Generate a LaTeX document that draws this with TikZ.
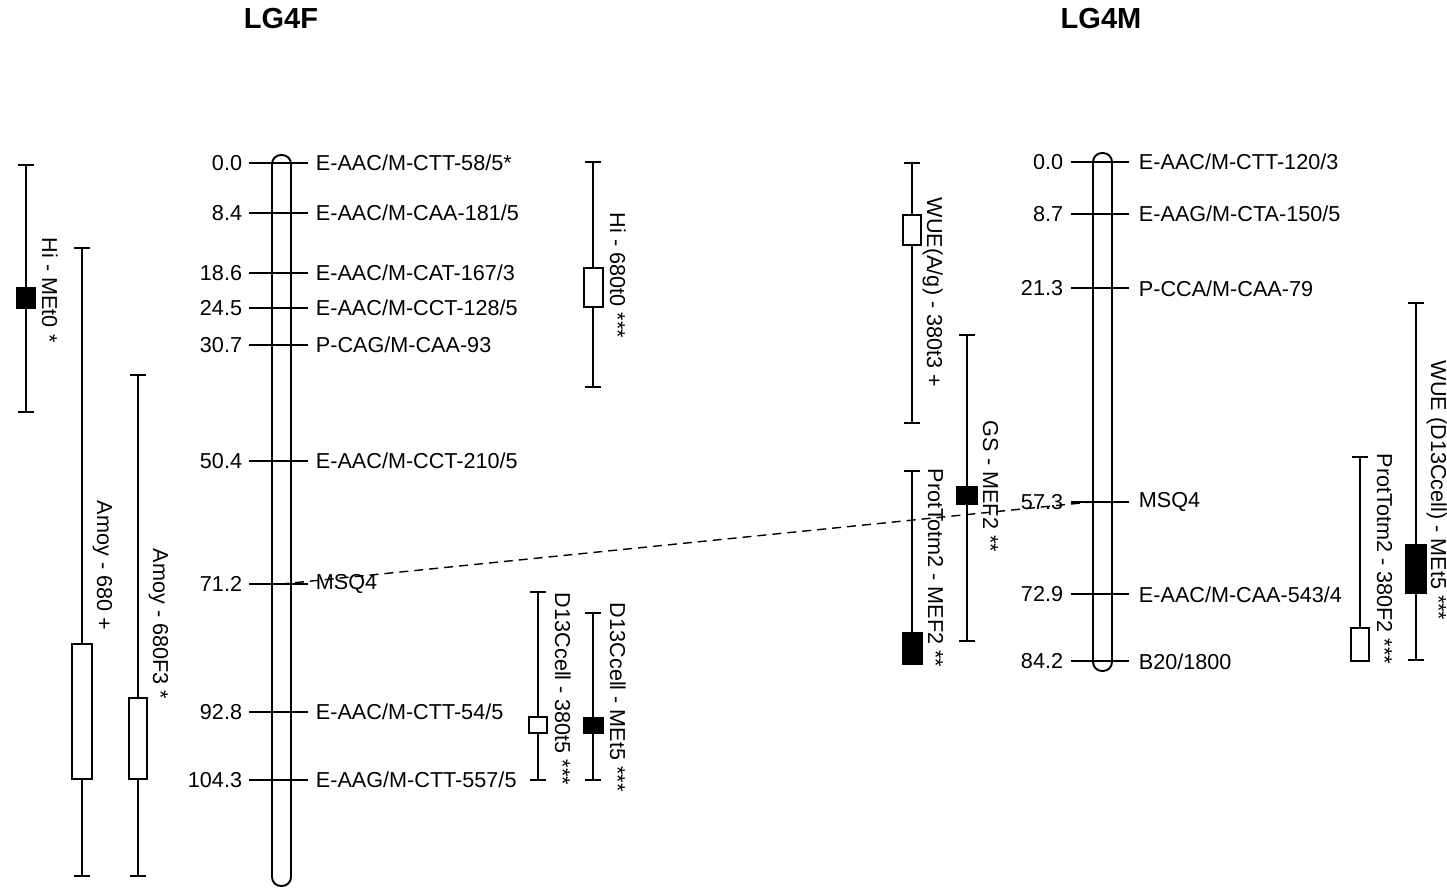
\documentclass[tikz,border=0pt]{standalone}
\usepackage{fontspec}
\setmainfont{Liberation Sans}
\usetikzlibrary{calc}

\begin{document}
\begin{tikzpicture}[x=0.02cm,y=-0.02cm,line width=1.1pt,
    every node/.style={font=\fontsize{12.3}{14}\selectfont},
    cpos/.style={anchor=east,inner sep=0pt},
    cmark/.style={anchor=west,inner sep=0pt},
    qlabel/.style={rotate=-90,anchor=base west,inner sep=0pt},
    lgtitle/.style={font=\fontsize{16.5}{18}\selectfont\bfseries},
    chrom/.style={rounded corners=0.18cm},
    openbox/.style={fill=white},
    fullbox/.style={fill=black},
    link/.style={line width=0.8pt,dash pattern=on 0.18cm off 0.12cm}]
        \useasboundingbox (0,0) rectangle (1447,888);

        \node[lgtitle] (tF) at (281,19) {LG4F};
        \node[lgtitle] (tM) at (1101,19) {LG4M};

        % LG4F
        \draw[chrom] (272,155) rectangle (291,886);
        \draw (249,163) -- (308,163);
        \draw (249,212.7) -- (308,212.7);
        \draw (249,273) -- (308,273);
        \draw (249,307.9) -- (308,307.9);
        \draw (249,344.6) -- (308,344.6);
        \draw (249,461.2) -- (308,461.2);
        \draw (249,584.2) -- (308,584.2);
        \draw (249,712) -- (308,712);
        \draw (249,780) -- (308,780);
        \node[cpos] (f1) at (243,163) {0.0};
        \node[cpos] (f2) at (243,212.7) {8.4};
        \node[cpos] (f3) at (243,273) {18.6};
        \node[cpos] (f4) at (243,307.9) {24.5};
        \node[cpos] (f5) at (243,344.6) {30.7};
        \node[cpos] (f6) at (243,461.2) {50.4};
        \node[cpos] (f7) at (243,584.2) {71.2};
        \node[cpos] (f8) at (243,712) {92.8};
        \node[cpos] (f9) at (243,780) {104.3};
        \node[cmark] (fm1) at (315,163) {E-AAC/M-CTT-58/5*};
        \node[cmark] (fm2) at (315,212.7) {E-AAC/M-CAA-181/5};
        \node[cmark] (fm3) at (315,273) {E-AAC/M-CAT-167/3};
        \node[cmark] (fm4) at (315,307.9) {E-AAC/M-CCT-128/5};
        \node[cmark] (fm5) at (315,344.6) {P-CAG/M-CAA-93};
        \node[cmark] (fm6) at (315,461.2) {E-AAC/M-CCT-210/5};
        \node[cmark] (fm7) at (315,584.2) {MSQ4};
        \node[cmark] (fm8) at (315,712) {E-AAC/M-CTT-54/5};
        \node[cmark] (fm9) at (315,780) {E-AAG/M-CTT-557/5};

        % LG4M
        \draw[chrom] (1093,153) rectangle (1112,671);
        \draw (1071,162) -- (1129,162);
        \draw (1071,213.6) -- (1129,213.6);
        \draw (1071,288.3) -- (1129,288.3);
        \draw (1071,501.8) -- (1129,501.8);
        \draw (1071,594.3) -- (1129,594.3);
        \draw (1071,661.3) -- (1129,661.3);
        \node[cpos] (m1) at (1064,162) {0.0};
        \node[cpos] (m2) at (1064,213.6) {8.7};
        \node[cpos] (m3) at (1064,288.3) {21.3};
        \node[cpos] (m4) at (1064,501.8) {57.3};
        \node[cpos] (m5) at (1064,594.3) {72.9};
        \node[cpos] (m6) at (1064,661.3) {84.2};
        \node[cmark] (mm1) at (1138,162) {E-AAC/M-CTT-120/3};
        \node[cmark] (mm2) at (1138,213.6) {E-AAG/M-CTA-150/5};
        \node[cmark] (mm3) at (1138,288.3) {P-CCA/M-CAA-79};
        \node[cmark] (mm4) at (1138,501.8) {MSQ4};
        \node[cmark] (mm5) at (1138,594.3) {E-AAC/M-CAA-543/4};
        \node[cmark] (mm6) at (1138,661.3) {B20/1800};

        % MSQ4 link
        \coordinate (msqF) at (280,584.2);
        \coordinate (msqM) at (1093,501.8);
        \draw[link] (msqF) -- (msqM);

        % QTL bars, LG4F side
        \draw (18,165) -- (34,165) (26,165) -- (26,412) (18,412) -- (34,412);
        \draw[fullbox] (17,288) rectangle (35,308);
        \node[qlabel] (q1) at (42,237) {Hi - MEt0 *};

        \draw (74,248) -- (90,248) (82,248) -- (82,876) (74,876) -- (90,876);
        \draw[openbox] (72,644) rectangle (92,779);
        \node[qlabel] (q2) at (97,500) {Amoy - 680 +};

        \draw (130,375) -- (146,375) (138,375) -- (138,876) (130,876) -- (146,876);
        \draw[openbox] (129,698) rectangle (147,779);
        \node[qlabel] (q3) at (153,548) {Amoy - 680F3 *};

        \draw (585,162) -- (601,162) (593,162) -- (593,387) (585,387) -- (601,387);
        \draw[openbox] (584,268) rectangle (603,307);
        \node[qlabel] (q4) at (610,212) {Hi - 680t0 ***};

        \draw (530,592) -- (546,592) (538,592) -- (538,780) (530,780) -- (546,780);
        \draw[openbox] (529,717) rectangle (547,733);
        \node[qlabel] (q5) at (555,592) {D13Ccell - 380t5 ***};

        \draw (585,613) -- (601,613) (593,613) -- (593,780) (585,780) -- (601,780);
        \draw[fullbox] (584,718) rectangle (603,733);
        \node[qlabel] (q6) at (610,602) {D13Ccell - MEt5 ***};

        % QTL bars, LG4M side
        \draw (904,163) -- (920,163) (912,163) -- (912,423) (904,423) -- (920,423);
        \draw[openbox] (903,215) rectangle (921,245);
        \node[qlabel] (q7) at (927,197) {WUE(A/g) - 380t3 +};

        \draw (959,335) -- (975,335) (967,335) -- (967,641) (959,641) -- (975,641);
        \draw[fullbox] (957,487) rectangle (977,504);
        \node[qlabel] (q8) at (983,420) {GS - MEF2 **};

        \draw (904,471) -- (920,471) (912,471) -- (912,663);
        \draw[fullbox] (903,633) rectangle (922,664);
        \node[qlabel] (q9) at (928,468) {ProtTotm2 - MEF2 **};

        \draw (1352,457) -- (1368,457) (1360,457) -- (1360,661);
        \draw[openbox] (1351,628) rectangle (1369,661);
        \node[qlabel] (q10) at (1377,453) {ProtTotm2 - 380F2 ***};

        \draw (1408,303) -- (1424,303) (1416,303) -- (1416,660) (1408,660) -- (1424,660);
        \draw[fullbox] (1406,545) rectangle (1426,593);
        \node[qlabel] (q11) at (1431,360) {WUE (D13Ccell) - MEt5 ***};
\end{tikzpicture}
\end{document}
